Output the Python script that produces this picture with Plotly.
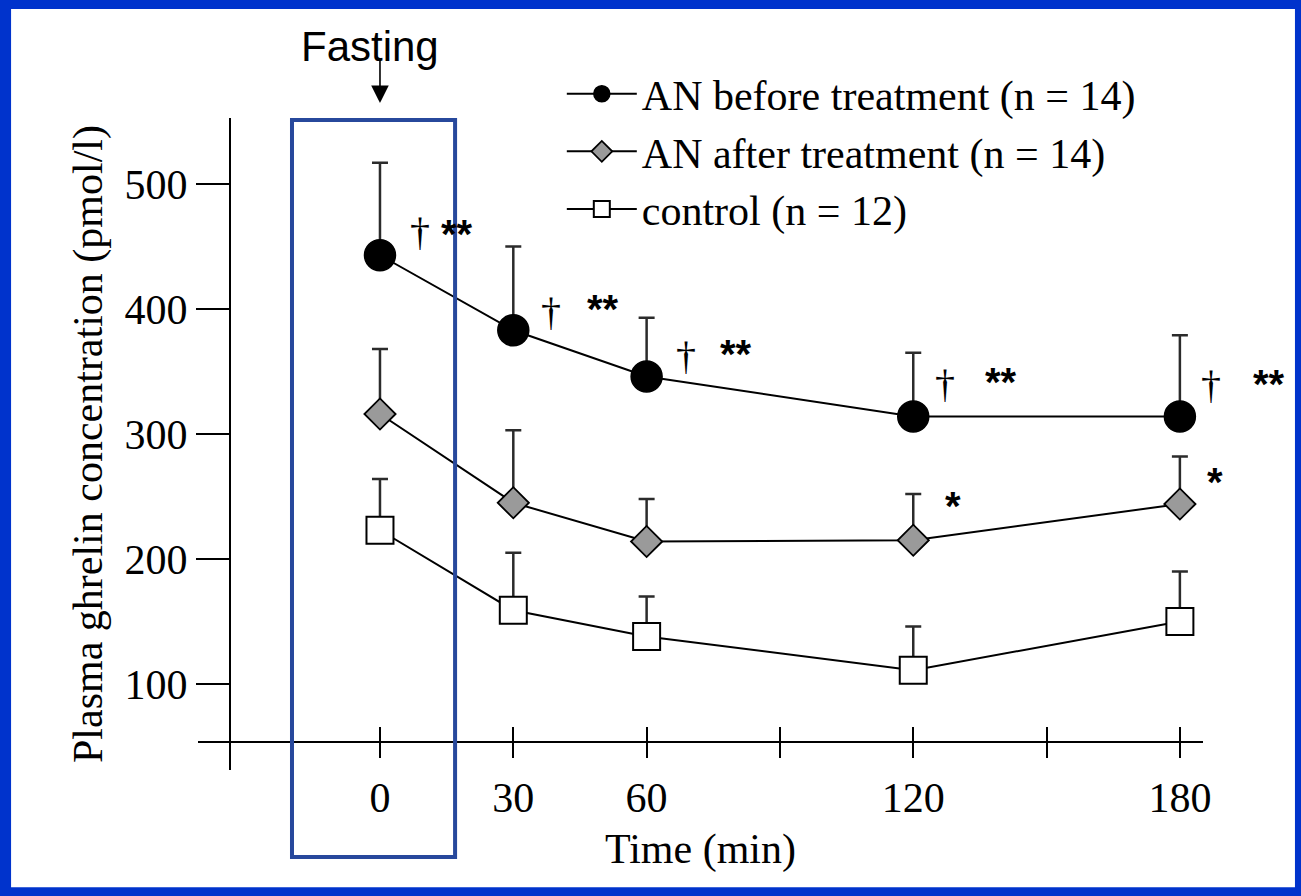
import plotly.graph_objects as go

# Sampling times (min) and axis ticks
time_min = [0, 30, 60, 120, 180]
x_tick_vals = [0, 30, 60, 90, 120, 150, 180]
x_tick_text = ["0", "30", "60", "", "120", "", "180"]
y_tick_vals = [100, 200, 300, 400, 500]

# Plasma ghrelin (pmol/l): group means and upper end of the error bars
an_before_mean = [443, 383, 346, 314, 314]
an_before_upper = [517, 450, 393, 365, 379]
an_after_mean = [316, 245, 214, 215, 244]
an_after_upper = [368, 303, 248, 252, 282]
control_mean = [223, 159, 138, 111, 150]
control_upper = [264, 205, 170, 146, 190]

series_names = [
    "AN before treatment (n = 14)",
    "AN after treatment (n = 14)",
    "control (n = 12)",
]

# Significance marks next to points: (series, time index, text, dx, dy) in px
sig_marks = [
    (0, 0, "†", 40, -24), (0, 0, "**", 77, -25),
    (0, 1, "†", 38, -19), (0, 1, "**", 90, -25),
    (0, 2, "†", 39, -21), (0, 2, "**", 89, -27),
    (0, 3, "†", 32, -33), (0, 3, "**", 88, -39),
    (0, 4, "†", 31, -32), (0, 4, "**", 89, -37),
    (1, 3, "*", 40, -38), (1, 4, "*", 35, -26),
]

SERIF = "Liberation Serif"
SANS = "Liberation Sans"
BLUE = "#0033cc"
X_RANGE = [-40.95, 185.2]

means = [an_before_mean, an_after_mean, control_mean]
uppers = [an_before_upper, an_after_upper, control_upper]
markers = [
    dict(symbol="circle", size=31, color="black", line=dict(color="black", width=1.5)),
    dict(symbol="diamond", size=24, color="#9a9a9a", line=dict(color="black", width=1.8)),
    dict(symbol="square", size=27, color="white", line=dict(color="black", width=2)),
]

fig = go.Figure()
for name, m, up, mk in zip(series_names, means, uppers, markers):
    fig.add_trace(go.Scatter(
        x=time_min, y=m, name=name, mode="lines+markers",
        line=dict(color="black", width=2),
        marker=mk, cliponaxis=False,
        error_y=dict(
            type="data", symmetric=False,
            array=[u - v for u, v in zip(up, m)],
            arrayminus=[0] * len(m),
            color="#2b2b2b", thickness=2.5, width=8,
        ),
    ))

# empty trace that carries the inward half of the x ticks
fig.add_trace(go.Scatter(x=[], y=[], xaxis="x2", showlegend=False, hoverinfo="skip"))

for s, i, txt, dx, dy in sig_marks:
    star = "*" in txt
    fig.add_annotation(
        x=time_min[i], y=means[s][i], text=txt, showarrow=False,
        xanchor="center", yanchor="middle",
        xshift=dx, yshift=-dy - (4 if star else 0),
        font=dict(family=SANS if star else SERIF, size=40 if star else 40,
                  color="black", weight="bold" if star else "normal"),
    )

# "Fasting" label with its arrow pointing at the baseline sample
fig.add_annotation(
    x=0, y=1.023, xref="x", yref="paper", text="Fasting", showarrow=False,
    xanchor="center", yanchor="middle",
    xshift=-10, yshift=57, font=dict(family=SANS, size=42, color="black"),
)
fig.add_annotation(
    x=0, y=1.023, xref="x", yref="paper", text="", showarrow=True,
    ax=0, ay=-46, arrowhead=2, arrowsize=2.2, arrowwidth=1.6, arrowcolor="black",
)

# frame around the baseline sample
fig.add_shape(
    type="rect", xref="x", yref="paper", x0=-19.8, x1=16.9, y0=-0.1334, y1=0.997,
    line=dict(color="#27489c", width=4), fillcolor="rgba(0,0,0,0)", layer="above",
)
# white slide area inside the blue border
fig.add_shape(
    type="rect", xref="paper", yref="paper", x0=-0.186, x1=1.0915, y0=-0.180, y1=1.167,
    line=dict(width=0), fillcolor="white", layer="below",
)

axis_font = dict(family=SERIF, size=42, color="black")
fig.update_layout(
    width=1301, height=896,
    margin=dict(l=198, r=98, t=118, b=126),
    paper_bgcolor=BLUE, plot_bgcolor="rgba(0,0,0,0)",
    showlegend=True,
    legend=dict(
        x=0.362, y=1.089, xanchor="left", yanchor="top",
        bgcolor="rgba(0,0,0,0)", font=dict(family=SERIF, size=42, color="black"),
        itemwidth=70, tracegroupgap=0,
    ),
    xaxis=dict(
        range=X_RANGE, domain=[0, 1], anchor="free", position=0.0429,
        showgrid=False, zeroline=False, showline=True, linecolor="black", linewidth=2,
        ticks="outside", ticklen=15, tickwidth=2, tickcolor="black",
        tickvals=x_tick_vals, ticktext=x_tick_text, tickfont=axis_font,
        ticklabelstandoff=4,
        title=dict(text="Time (min)", font=axis_font, standoff=12),
    ),
    xaxis2=dict(
        range=X_RANGE, domain=[0, 1], anchor="free", position=0.0429,
        overlaying="x", showgrid=False, zeroline=False, showline=False,
        ticks="inside", ticklen=15, tickwidth=2, tickcolor="black",
        tickvals=x_tick_vals, showticklabels=False,
    ),
    yaxis=dict(
        range=[31.2, 552.8], domain=[0, 1], anchor="free", position=0.0318,
        showgrid=False, zeroline=False, showline=True, linecolor="black", linewidth=2,
        ticks="outside", ticklen=33, tickwidth=2, tickcolor="black",
        tickvals=y_tick_vals, tickfont=axis_font,
        title=dict(text="Plasma ghrelin concentration (pmol/l)", font=axis_font, standoff=8),
    ),
)

fig.write_html("out.html")
